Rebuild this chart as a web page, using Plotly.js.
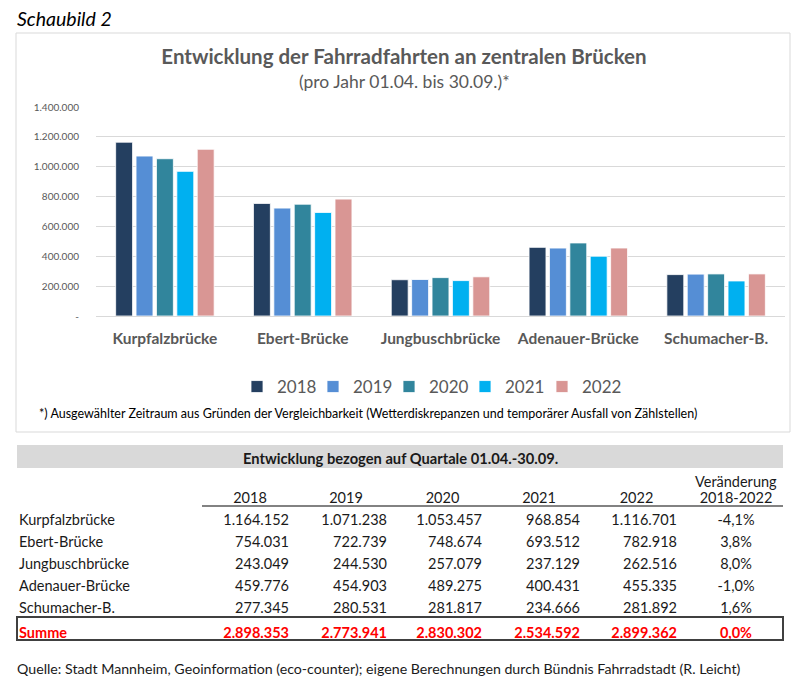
<!DOCTYPE html>
<html>
<head>
<meta charset="utf-8">
<script src="https://cdn.plot.ly/plotly-3.0.1.min.js"></script>
<style>html,body{margin:0;padding:0;background:#fff;}#chart{width:800px;height:692px;}</style>
</head>
<body>
<div id="chart"></div>
<script>
// ---- data ----
const bridges = ['Kurpfalzbrücke', 'Ebert-Brücke', 'Jungbuschbrücke', 'Adenauer-Brücke', 'Schumacher-B.'];
const years = ['2018', '2019', '2020', '2021', '2022'];
const v2018 = [1164152, 754031, 243049, 459776, 277345];
const v2019 = [1071238, 722739, 244530, 454903, 280531];
const v2020 = [1053457, 748674, 257079, 489275, 281817];
const v2021 = [968854, 693512, 237129, 400431, 234666];
const v2022 = [1116701, 782918, 262516, 455335, 281892];
const sums = [2898353, 2773941, 2830302, 2534592, 2899362];
const changes = ['-4,1%', '3,8%', '8,0%', '-1,0%', '1,6%'];
const sumChange = '0,0%';
const changeHeader = ['Veränderung', '2018-2022'];
const yTickVals = [0, 200000, 400000, 600000, 800000, 1000000, 1200000, 1400000];
const yTickText = ['-', '200.000', '400.000', '600.000', '800.000', '1.000.000', '1.200.000', '1.400.000'];
const colors = ['#243F60', '#558ED5', '#31859C', '#00B0F0', '#D99694'];

// ---- helpers ----
const W = 800, H = 692;
const px = x => x / W;
const py = y => 1 - y / H;
const FONT = 'Lato, "Open Sans", sans-serif';
const fmt = n => String(n).replace(/\B(?=(\d{3})+(?!\d))/g, '.');
const legendIds = ['legend', 'legend2', 'legend3', 'legend4', 'legend5'];
const legendSquareLeft = [251, 327, 403, 479, 556];

const series = [v2018, v2019, v2020, v2021, v2022];
const traces = series.map((vals, i) => ({
  type: 'bar', name: years[i], x: bridges, y: vals, legend: legendIds[i],
  marker: {color: colors[i], line: {color: '#ffffff', width: 0.8}},
  hoverinfo: 'x+y+name'
}));

// table
const colVals = [bridges.concat(['<b>Summe</b>'])];
series.forEach((vals, i) => colVals.push(vals.map(fmt).concat(['<b>' + fmt(sums[i]) + '</b>'])));
colVals.push(changes.concat(['<b>' + sumChange + '</b>']));
const black = '#1a1a1a', red = '#FF0000';
const fontColors = colVals.map(c => c.map((_, r) => r === c.length - 1 ? red : black));

traces.push({
  type: 'table',
  domain: {x: [px(11), px(787)], y: [py(655), py(484)]},
  columnwidth: [192, 94, 98, 95, 98, 97, 102],
  header: {
    values: [''].concat(years).concat([changeHeader[1]]),
    align: 'center', height: 22,
    fill: {color: 'rgba(0,0,0,0)'}, line: {color: 'rgba(0,0,0,0)', width: 0},
    font: {family: FONT, size: 14.5, color: black}
  },
  cells: {
    values: colVals,
    align: ['left', 'right', 'right', 'right', 'right', 'right', 'center'],
    height: 22,
    fill: {color: 'rgba(0,0,0,0)'}, line: {color: 'rgba(0,0,0,0)', width: 0},
    font: {family: FONT, size: 14.5, color: fontColors}
  }
});

const layout = {
  width: W, height: H,
  margin: {l: 0, r: 0, t: 0, b: 0},
  paper_bgcolor: '#ffffff', plot_bgcolor: '#ffffff',
  font: {family: FONT, color: '#595959'},
  showlegend: true,
  title: {
    text: '<b>Entwicklung der Fahrradfahrten an zentralen Brücken</b>',
    x: px(404), xanchor: 'center', y: py(57), yanchor: 'middle',
    font: {family: FONT, size: 20.5, color: '#595959'}
  },
  barmode: 'group', bargap: 0.26, bargroupgap: 0.17,
  xaxis: {
    domain: [px(96), px(785)], anchor: 'y',
    type: 'category', showgrid: false, showline: true, linecolor: '#D9D9D9', linewidth: 1,
    ticks: 'outside', ticklen: 8, tickcolor: 'rgba(0,0,0,0)',
    tickfont: {family: FONT, size: 15.5, color: '#595959', weight: 'bold'},
    fixedrange: true
  },
  yaxis: {
    domain: [py(316), py(107)], anchor: 'x',
    range: [0, 1400000], tickmode: 'array', tickvals: yTickVals, ticktext: yTickText,
    showgrid: true, gridcolor: '#D9D9D9', gridwidth: 1, zeroline: false,
    ticks: 'outside', ticklen: 14, tickcolor: 'rgba(0,0,0,0)',
    tickfont: {family: FONT, size: 10, color: '#595959'},
    fixedrange: true
  },
  shapes: [
    {type: 'rect', xref: 'paper', yref: 'paper', x0: px(16), x1: px(790), y0: py(432), y1: py(33),
     line: {color: '#D9D9D9', width: 1}, fillcolor: 'rgba(0,0,0,0)', layer: 'below'},
    {type: 'rect', xref: 'paper', yref: 'paper', x0: px(17), x1: px(783), y0: py(468), y1: py(445),
     line: {width: 0}, fillcolor: '#D9D9D9', layer: 'below'},
    {type: 'line', xref: 'paper', yref: 'paper', x0: px(202), x1: px(783), y0: py(506), y1: py(506),
     line: {color: '#595959', width: 1.5}},
    {type: 'rect', xref: 'paper', yref: 'paper', x0: px(17), x1: px(783), y0: py(640), y1: py(617),
     line: {color: '#404040', width: 2}, fillcolor: 'rgba(0,0,0,0)'}
  ],
  annotations: [
    {text: '<i>Schaubild 2</i>', xref: 'paper', yref: 'paper', x: px(15), y: py(18),
     xanchor: 'left', yanchor: 'middle', showarrow: false,
     font: {family: FONT, size: 19.5, color: '#000000'}},
    {text: '(pro Jahr 01.04. bis 30.09.)*', xref: 'paper', yref: 'paper', x: px(404), y: py(82),
     xanchor: 'center', yanchor: 'middle', showarrow: false,
     font: {family: FONT, size: 17.5, color: '#595959'}},
    {text: '*) Ausgewählter Zeitraum aus Gründen der Vergleichbarkeit (Wetterdiskrepanzen und temporärer Ausfall von Zählstellen)',
     xref: 'paper', yref: 'paper', x: px(37), y: py(413), xanchor: 'left', yanchor: 'middle', showarrow: false,
     font: {family: FONT, size: 12.5, color: '#000000'}},
    {text: '<b>Entwicklung bezogen auf Quartale 01.04.-30.09.</b>', xref: 'paper', yref: 'paper',
     x: px(400), y: py(458), xanchor: 'center', yanchor: 'middle', showarrow: false,
     font: {family: FONT, size: 14.7, color: '#1a1a1a'}},
    {text: changeHeader[0], xref: 'paper', yref: 'paper',
     x: px(736), y: py(481), xanchor: 'center', yanchor: 'middle', showarrow: false,
     font: {family: FONT, size: 14.5, color: '#1a1a1a'}},
    {text: 'Quelle: Stadt Mannheim, Geoinformation (eco-counter); eigene Berechnungen durch Bündnis Fahrradstadt (R. Leicht)',
     xref: 'paper', yref: 'paper', x: px(15), y: py(668), xanchor: 'left', yanchor: 'middle', showarrow: false,
     font: {family: FONT, size: 14.2, color: '#1a1a1a'}}
  ]
};

legendIds.forEach((id, i) => {
  layout[id] = {
    orientation: 'h', x: px(legendSquareLeft[i] - 14), xanchor: 'left', y: py(387), yanchor: 'middle',
    font: {family: FONT, size: 17, color: '#595959'},
    itemwidth: 30, bgcolor: 'rgba(0,0,0,0)', borderwidth: 0
  };
});

Plotly.newPlot('chart', traces, layout, {displayModeBar: false});
</script>
</body>
</html>
